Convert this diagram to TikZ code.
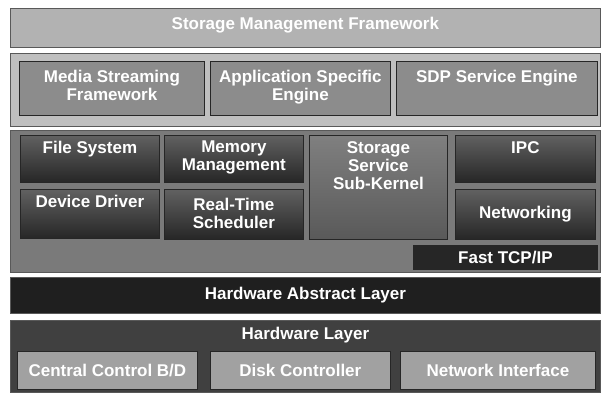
\documentclass[tikz,border=0pt]{standalone}
\usepackage{fontspec}
\setmainfont{Liberation Sans}
\usetikzlibrary{positioning}
\begin{document}
\begin{tikzpicture}[x=1pt, y=-1pt,
    txt/.style={text=white, font=\bfseries\fontsize{17}{18}\selectfont, align=center, inner sep=0pt},
    layer/.style={draw=black!65, line width=0.8pt, anchor=north west, inner sep=0pt},
    block/.style={draw=black!85, line width=0.8pt, anchor=north west, inner sep=0pt},
    lightblock/.style={block, fill=black!45},
    darkblock/.style={block, top color=black!62, bottom color=black!85},
    hwblock/.style={block, fill=black!37, txt}]
    \useasboundingbox (0,0) rectangle (605,399);

    % Storage management framework
    \node[layer, fill=black!30, minimum width=590pt, minimum height=39pt] (smf) at (10,8) {};
    \node[txt, below=9pt of smf.north] (smftext) {Storage Management Framework};

    % Engines
    \node[layer, fill=black!25, minimum width=590pt, minimum height=73pt] (eng) at (10,53) {};
    \node[lightblock, minimum width=185pt, minimum height=54pt] (msf) at (19,61) {};
    \node[lightblock, minimum width=180pt, minimum height=54pt] (ase) at (210,61) {};
    \node[lightblock, minimum width=201pt, minimum height=54pt] (sdp) at (396,61) {};
    \node[txt, below=9pt of msf.north] (msftext) {Media Streaming\\Framework};
    \node[txt, below=9pt of ase.north] (asetext) {Application Specific\\Engine};
    \node[txt, below=9pt of sdp.north] (sdptext) {SDP Service Engine};

    % Kernel
    \node[layer, fill=black!52, minimum width=590pt, minimum height=142pt] (krn) at (10,130) {};
    \node[darkblock, minimum width=139pt, minimum height=47pt] (fs) at (20,135) {};
    \node[darkblock, minimum width=139pt, minimum height=49pt] (dd) at (20,189) {};
    \node[darkblock, minimum width=139pt, minimum height=47pt] (mm) at (164,135) {};
    \node[darkblock, minimum width=139pt, minimum height=50pt] (rts) at (164,189) {};
    \node[block, top color=black!50, bottom color=black!65, minimum width=138pt, minimum height=104pt] (sssk) at (309,135) {};
    \node[darkblock, minimum width=140pt, minimum height=47pt] (ipc) at (455,135) {};
    \node[darkblock, minimum width=140pt, minimum height=50pt] (net) at (455,189) {};
    \node[block, fill=black!85, minimum width=184pt, minimum height=24pt] (tcp) at (413,245) {};
    \node[txt, below=6pt of fs.north] (fstext) {File System};
    \node[txt, below=6pt of dd.north] (ddtext) {Device Driver};
    \node[txt, below=6pt of mm.north] (mmtext) {Memory\\Management};
    \node[txt, below=9pt of rts.north] (rtstext) {Real-Time\\Scheduler};
    \node[txt, below=6pt of sssk.north] (sssktext) {Storage\\Service\\Sub-Kernel};
    \node[txt, below=6pt of ipc.north] (ipctext) {IPC};
    \node[txt] (nettext) at (net) {Networking};
    \node[txt] (tcptext) at (tcp) {Fast TCP/IP};

    % Hardware abstract layer
    \node[layer, fill=black!88, minimum width=590pt, minimum height=36pt, txt] (hal) at (10,277) {Hardware Abstract Layer};

    % Hardware layer
    \node[layer, fill=black!75, minimum width=590pt, minimum height=72pt] (hwl) at (10,320) {};
    \node[txt, below=7pt of hwl.north] (hwltext) {Hardware Layer};
    \node[hwblock, minimum width=180pt, minimum height=38pt] (ccb) at (17,351) {Central Control B/D};
    \node[hwblock, minimum width=180pt, minimum height=38pt] (dc) at (210,351) {Disk Controller};
    \node[hwblock, minimum width=195pt, minimum height=38pt] (ni) at (400,351) {Network Interface};
\end{tikzpicture}
\end{document}
